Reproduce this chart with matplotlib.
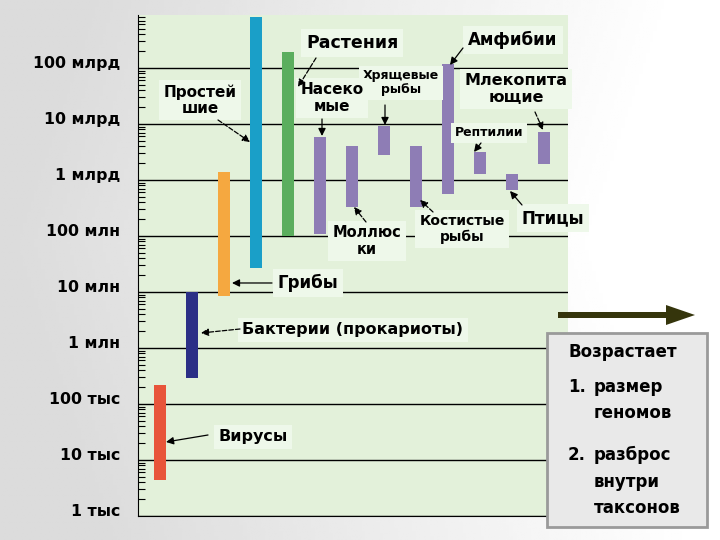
import numpy as np
import matplotlib.pyplot as plt
from matplotlib.patches import Rectangle
from matplotlib.transforms import ScaledTranslation
from matplotlib.ticker import LogLocator, NullFormatter

plt.rcParams['font.family'] = ['DejaVu Sans']

# genome size ranges (base pairs) per taxon
taxa = ['Вирусы', 'Бактерии', 'Грибы', 'Простейшие', 'Растения', 'Насекомые',
        'Моллюски', 'Хрящевые рыбы', 'Костистые рыбы', 'Амфибии', 'Рептилии',
        'Птицы', 'Млекопитающие']
low = [4.4e3, 2.9e5, 8.5e6, 2.7e7, 1.0e8, 1.1e8, 3.3e8, 2.8e9, 3.3e8, 5.6e8,
       1.3e9, 6.6e8, 1.9e9]
high = [2.2e5, 1.0e7, 1.4e9, 8.0e11, 1.9e11, 5.9e9, 4.1e9, 9.2e9, 4.1e9, 1.2e11,
        3.2e9, 1.3e9, 7.2e9]
colors = ['#E8553A', '#2B2F86', '#F5A840', '#1A9FC8', '#5BAE5E'] + ['#8E7DB5'] * 8

tick_vals = [1e3, 1e4, 1e5, 1e6, 1e7, 1e8, 1e9, 1e10, 1e11]
tick_labels = ['1 тыс', '10 тыс', '100 тыс', '1 млн', '10 млн', '100 млн',
               '1 млрд', '10 млрд', '100 млрд']

fig = plt.figure(figsize=(7.2, 5.4), dpi=100)

# gray gradient background of the slide
bg = fig.add_axes([0, 0, 1, 1], zorder=-10)
gx, gy = np.meshgrid(np.linspace(0, 1, 200), np.linspace(0, 1, 200))
shade = 0.86 + 0.14 * np.clip(1.2 * gx - 0.3 * np.abs(gy - 0.45), 0, 1)
bg.imshow(shade, cmap='gray', vmin=0, vmax=1, aspect='auto', extent=[0, 1, 0, 1])
bg.axis('off')

ax = fig.add_axes([138 / 720, 1 - 516 / 540, 430 / 720, 501 / 540])
ax.set_facecolor('#E3F1DA')
ax.set_yscale('log')
ax.set_ylim(1e3, 10 ** 11.946)
ax.set_xlim(-0.6875, 12.75)

x = np.arange(len(taxa))
ax.bar(x, np.array(high) - np.array(low), bottom=low, width=0.38, color=colors,
       zorder=3)

ax.set_yticks(tick_vals)
ax.set_yticklabels(tick_labels, fontsize=11.3, fontweight='bold')
ax.yaxis.set_minor_locator(LogLocator(base=10, subs=np.arange(2, 10)))
ax.yaxis.set_minor_formatter(NullFormatter())
ax.tick_params(axis='y', which='minor', direction='in', length=5, width=0.8)
ax.tick_params(axis='y', which='major', direction='in', length=0, pad=13)
ax.set_xticks([])
off = ScaledTranslation(0, 4.5 / 72, fig.dpi_scale_trans)
for lab in ax.get_yticklabels():
    lab.set_transform(lab.get_transform() + off)
ax.grid(axis='y', which='major', color='black', linewidth=1, zorder=1)
ax.spines['top'].set_visible(False)
ax.spines['right'].set_visible(False)


def px(xp, yp):
    return ((xp - 160) / 32, 10 ** (3 + (516 - yp) / 56))


box = dict(boxstyle='square,pad=0.3', facecolor='#EEF8EA', edgecolor='none')


def label(text, tpos, size=11, z=5):
    ax.text(*px(*tpos), text, ha='center', va='center', fontsize=size,
            fontweight='bold', linespacing=1.1, bbox=box, clip_on=False, zorder=z)


def arrow(start, tip, dashed=False):
    ax.annotate('', xy=px(*tip), xytext=px(*start), annotation_clip=False,
                arrowprops=dict(arrowstyle='-|>', color='black', lw=0.9,
                                linestyle='--' if dashed else '-',
                                mutation_scale=11, shrinkA=0, shrinkB=0),
                zorder=6)


label('Растения', (352, 43), 12.5)
arrow((316, 58), (298, 87), True)
label('Простей\nшие', (200, 100), 11)
arrow((218, 120), (250, 142), True)
label('Хрящевые\nрыбы', (401, 83), 9, z=4)
arrow((385, 105), (385, 125))
label('Насеко\nмые', (332, 98), 11)
arrow((322, 119), (322, 136))
label('Амфибии', (513, 40), 12)
arrow((463, 48), (450, 65))
label('Млекопита\nющие', (516, 89), 11.5)
arrow((535, 112), (543, 130), True)
label('Рептилии', (489, 133), 9)
arrow((481, 143), (474, 152))
label('Птицы', (553, 218), 12)
arrow((522, 205), (510, 191))
label('Костистые\nрыбы', (462, 229), 10)
arrow((433, 212), (420, 200), True)
label('Моллюс\nки', (367, 241), 10.5)
arrow((366, 222), (354, 207), True)
label('Грибы', (308, 283), 12)
arrow((272, 283), (232, 283))
label('Бактерии (прокариоты)', (353, 330), 11.5)
arrow((240, 329), (201, 333), True)
label('Вирусы', (253, 437), 11.5)
arrow((208, 435), (166, 442))

# summary box on the right
fig.patches.append(Rectangle((547 / 720, 1 - 527 / 540), 160 / 720, 194 / 540,
                             transform=fig.transFigure, facecolor='#E9E9E9',
                             edgecolor='#9A9A9A', linewidth=2, zorder=20))
tk = dict(fontsize=12, fontweight='bold', va='center', zorder=21)
fig.text(568 / 720, 1 - 352 / 540, 'Возрастает', **tk)
fig.text(568 / 720, 1 - 387 / 540, '1.', **tk)
fig.text(594 / 720, 1 - 387 / 540, 'размер', **tk)
fig.text(594 / 720, 1 - 413 / 540, 'геномов', **tk)
fig.text(568 / 720, 1 - 455 / 540, '2.', **tk)
fig.text(594 / 720, 1 - 455 / 540, 'разброс', **tk)
fig.text(594 / 720, 1 - 482 / 540, 'внутри', **tk)
fig.text(594 / 720, 1 - 508 / 540, 'таксонов', **tk)

# big arrow above the box
fig.patches.append(plt.Polygon(
    [(558 / 720, 1 - 312 / 540), (666 / 720, 1 - 312 / 540), (666 / 720, 1 - 305 / 540),
     (695 / 720, 1 - 315 / 540), (666 / 720, 1 - 325 / 540), (666 / 720, 1 - 318 / 540),
     (558 / 720, 1 - 318 / 540)], closed=True, transform=fig.transFigure,
    facecolor='#35350C', edgecolor='none', zorder=20))

fig.savefig('out.png', dpi=100)
